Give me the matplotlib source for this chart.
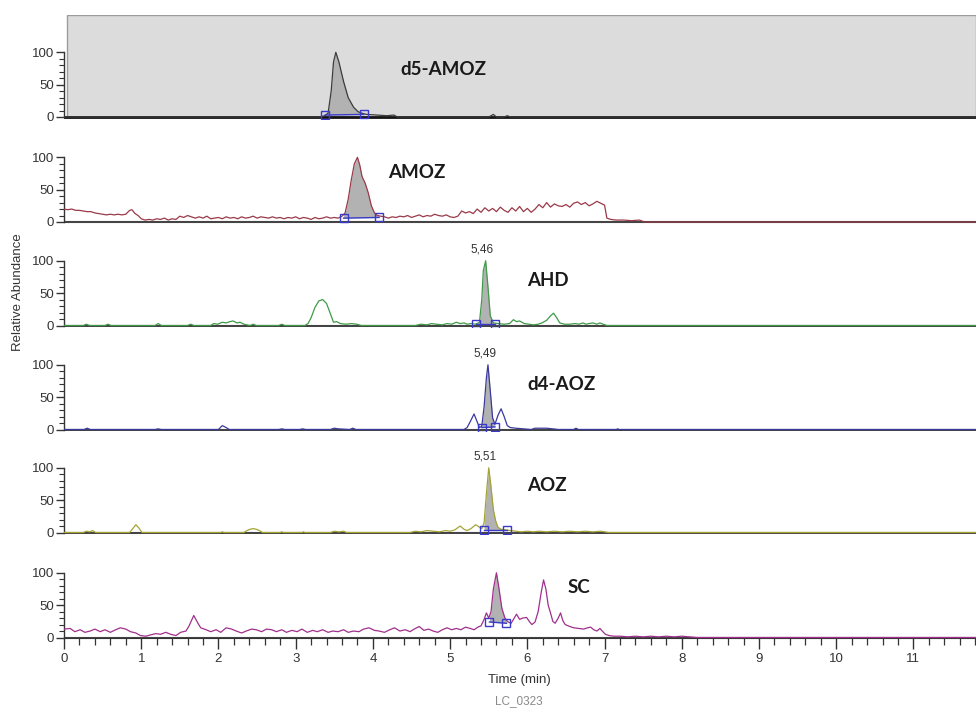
import numpy as np
import matplotlib
matplotlib.use('Agg')
import matplotlib.pyplot as plt
from matplotlib.patches import Rectangle
from matplotlib.ticker import FixedLocator
from matplotlib.transforms import blended_transform_factory

# chromatogram traces, (time min, relative abundance)
d5_amoz = [(0, 0), (3.30, 0), (3.38, 2), (3.42, 6), (3.46, 40), (3.49, 85), (3.52, 100),
           (3.56, 85), (3.62, 55), (3.68, 30), (3.75, 15), (3.81, 8), (3.88, 5), (3.92, 4),
           (4.05, 3), (4.18, 2), (4.27, 3), (4.32, 0), (5.50, 0), (5.56, 4), (5.60, 0),
           (5.70, 0), (5.74, 2), (5.78, 0), (11.81, 0)]

amoz = [(0.00, 20), (0.05, 19), (0.10, 20), (0.15, 18), (0.20, 18), (0.25, 17), (0.30, 16),
        (0.35, 16), (0.40, 14), (0.45, 13), (0.50, 12), (0.55, 11), (0.60, 12), (0.65, 11),
        (0.70, 12), (0.75, 11), (0.80, 12), (0.85, 18), (0.88, 19), (0.92, 13), (0.96, 10),
        (1.00, 5), (1.05, 3), (1.10, 4), (1.15, 3), (1.20, 5), (1.25, 4), (1.30, 6), (1.35, 3),
        (1.40, 5), (1.45, 4), (1.50, 9), (1.55, 7), (1.60, 10), (1.65, 8), (1.70, 6), (1.75, 8),
        (1.80, 6), (1.85, 9), (1.90, 5), (1.95, 6), (2.00, 7), (2.05, 5), (2.10, 8), (2.15, 6),
        (2.20, 7), (2.25, 5), (2.30, 8), (2.35, 6), (2.40, 7), (2.45, 9), (2.50, 6), (2.55, 8),
        (2.60, 7), (2.65, 6), (2.70, 8), (2.75, 6), (2.80, 7), (2.85, 5), (2.90, 7), (2.95, 6),
        (3.00, 8), (3.05, 5), (3.10, 7), (3.15, 6), (3.20, 4), (3.25, 7), (3.30, 5), (3.35, 6),
        (3.40, 8), (3.45, 6), (3.50, 7), (3.55, 6), (3.60, 9), (3.64, 14), (3.68, 35),
        (3.72, 65), (3.76, 90), (3.80, 100), (3.83, 88), (3.86, 70), (3.90, 60), (3.94, 45),
        (3.98, 25), (4.02, 14), (4.06, 10), (4.10, 9), (4.15, 8), (4.20, 6), (4.25, 8),
        (4.30, 7), (4.35, 9), (4.40, 8), (4.45, 10), (4.50, 7), (4.55, 9), (4.60, 11),
        (4.65, 8), (4.70, 10), (4.75, 9), (4.80, 12), (4.85, 10), (4.90, 9), (4.95, 11),
        (5.00, 8), (5.05, 7), (5.10, 9), (5.15, 17), (5.20, 14), (5.25, 16), (5.30, 13),
        (5.35, 20), (5.40, 15), (5.45, 22), (5.50, 17), (5.55, 21), (5.60, 16), (5.65, 23),
        (5.70, 18), (5.75, 15), (5.80, 22), (5.85, 17), (5.90, 24), (5.95, 16), (6.00, 21),
        (6.05, 15), (6.10, 20), (6.15, 27), (6.20, 22), (6.25, 30), (6.30, 23), (6.35, 28),
        (6.40, 25), (6.45, 24), (6.50, 27), (6.55, 23), (6.60, 29), (6.65, 31), (6.70, 27),
        (6.75, 30), (6.80, 25), (6.85, 28), (6.90, 32), (6.95, 29), (7.00, 26), (7.03, 6),
        (7.08, 4), (7.15, 3), (7.25, 3), (7.35, 2), (7.45, 3), (7.52, 0), (11.81, 0)]

ahd = [(0, 0), (0.25, 0), (0.29, 2), (0.33, 0), (0.53, 0), (0.57, 2), (0.61, 0), (1.18, 0),
       (1.22, 3), (1.26, 0), (1.60, 0), (1.64, 2), (1.68, 0), (1.90, 0), (1.94, 3), (1.99, 2),
       (2.05, 5), (2.10, 4), (2.15, 6), (2.19, 7), (2.24, 4), (2.28, 5), (2.33, 2), (2.41, 0),
       (2.45, 2), (2.49, 0), (2.78, 0), (2.82, 2), (2.86, 0), (3.12, 0), (3.16, 3), (3.20, 12),
       (3.25, 28), (3.30, 38), (3.35, 40), (3.40, 34), (3.45, 18), (3.49, 5), (3.53, 6),
       (3.58, 3), (3.65, 2), (3.72, 3), (3.79, 2), (3.85, 0), (4.55, 0), (4.62, 2), (4.70, 1),
       (4.76, 3), (4.82, 2), (4.90, 1), (4.96, 3), (5.02, 2), (5.08, 5), (5.13, 3), (5.18, 4),
       (5.22, 2), (5.27, 3), (5.33, 2), (5.38, 5), (5.41, 40), (5.43, 85), (5.46, 100),
       (5.49, 60), (5.52, 15), (5.56, 4), (5.62, 3), (5.70, 2), (5.77, 3), (5.82, 9),
       (5.86, 6), (5.90, 7), (5.96, 3), (6.02, 2), (6.08, 1), (6.14, 2), (6.19, 4), (6.25, 8),
       (6.30, 15), (6.34, 19), (6.38, 12), (6.42, 4), (6.48, 2), (6.55, 2), (6.62, 3),
       (6.67, 2), (6.72, 4), (6.76, 2), (6.80, 3), (6.85, 4), (6.90, 2), (6.94, 4), (6.98, 2),
       (7.03, 0), (11.81, 0)]

d4_aoz = [(0, 0), (0.26, 0), (0.30, 2), (0.34, 0), (1.18, 0), (1.22, 1), (1.26, 0), (2.00, 0),
          (2.05, 6), (2.10, 3), (2.14, 0), (2.78, 0), (2.82, 1), (2.86, 0), (3.05, 0),
          (3.09, 1), (3.13, 0), (3.45, 0), (3.50, 2), (3.55, 1), (3.70, 0), (3.74, 2),
          (3.78, 0), (5.18, 0), (5.22, 3), (5.26, 12), (5.31, 24), (5.35, 12), (5.38, 3),
          (5.41, 5), (5.44, 35), (5.47, 80), (5.49, 100), (5.52, 60), (5.55, 18), (5.58, 8),
          (5.62, 22), (5.66, 32), (5.70, 20), (5.74, 6), (5.78, 3), (5.85, 2), (5.95, 1),
          (6.05, 0), (6.10, 2), (6.25, 2), (6.33, 1), (6.40, 0), (6.60, 0), (6.63, 2),
          (6.66, 0), (7.15, 0), (7.17, 1), (7.19, 0), (11.81, 0)]

aoz = [(0, 0), (0.25, 0), (0.29, 2), (0.33, 1), (0.37, 3), (0.41, 0), (0.85, 0), (0.89, 6),
       (0.93, 12), (0.97, 7), (1.01, 0), (2.03, 0), (2.05, 1), (2.07, 0), (2.33, 0), (2.37, 3),
       (2.41, 5), (2.45, 6), (2.49, 5), (2.53, 3), (2.57, 0), (2.80, 0), (2.82, 1), (2.84, 0),
       (3.08, 0), (3.10, 1), (3.12, 0), (3.45, 0), (3.50, 2), (3.56, 1), (3.62, 2), (3.66, 0),
       (4.48, 0), (4.55, 2), (4.62, 1), (4.70, 3), (4.78, 2), (4.86, 1), (4.94, 3), (5.00, 2),
       (5.06, 4), (5.13, 10), (5.18, 5), (5.22, 3), (5.27, 6), (5.33, 12), (5.37, 9),
       (5.41, 6), (5.44, 15), (5.47, 60), (5.50, 100), (5.53, 70), (5.56, 35), (5.59, 18),
       (5.62, 8), (5.66, 5), (5.72, 4), (5.78, 3), (5.85, 2), (5.92, 1), (6.00, 2), (6.08, 1),
       (6.15, 2), (6.25, 1), (6.35, 2), (6.45, 1), (6.55, 2), (6.65, 1), (6.75, 2), (6.85, 1),
       (6.95, 2), (7.05, 0), (11.81, 0)]

sc = [(0.00, 13), (0.08, 14), (0.14, 9), (0.21, 12), (0.27, 8), (0.34, 10), (0.40, 13),
      (0.47, 9), (0.53, 12), (0.60, 8), (0.67, 12), (0.73, 15), (0.80, 13), (0.86, 9),
      (0.93, 7), (0.99, 3), (1.06, 2), (1.12, 4), (1.19, 6), (1.25, 5), (1.32, 8), (1.38, 5),
      (1.45, 3), (1.51, 8), (1.58, 10), (1.62, 18), (1.68, 34), (1.73, 23), (1.77, 15),
      (1.84, 12), (1.90, 9), (1.97, 12), (2.03, 8), (2.10, 15), (2.17, 13), (2.23, 10),
      (2.30, 7), (2.36, 10), (2.43, 13), (2.49, 12), (2.56, 9), (2.62, 13), (2.69, 12),
      (2.75, 9), (2.82, 12), (2.88, 8), (2.95, 11), (3.02, 9), (3.08, 13), (3.15, 8),
      (3.22, 11), (3.28, 9), (3.35, 12), (3.42, 8), (3.48, 10), (3.55, 9), (3.62, 12),
      (3.68, 8), (3.75, 10), (3.82, 9), (3.88, 13), (3.95, 15), (4.02, 11), (4.08, 10),
      (4.15, 8), (4.22, 12), (4.28, 15), (4.35, 10), (4.42, 12), (4.48, 9), (4.55, 14),
      (4.60, 17), (4.66, 11), (4.72, 13), (4.78, 10), (4.84, 8), (4.90, 12), (4.96, 15),
      (5.02, 12), (5.08, 14), (5.14, 12), (5.20, 16), (5.26, 14), (5.31, 12), (5.36, 16),
      (5.40, 18), (5.44, 28), (5.47, 38), (5.50, 30), (5.53, 40), (5.56, 75), (5.60, 100),
      (5.63, 78), (5.67, 45), (5.71, 30), (5.75, 24), (5.79, 22), (5.83, 30), (5.86, 36),
      (5.90, 28), (5.94, 30), (5.99, 31), (6.03, 24), (6.06, 20), (6.10, 24), (6.14, 40),
      (6.18, 70), (6.21, 89), (6.24, 75), (6.27, 50), (6.30, 38), (6.33, 25), (6.36, 22),
      (6.40, 30), (6.43, 38), (6.46, 26), (6.49, 20), (6.55, 17), (6.60, 15), (6.67, 14),
      (6.73, 13), (6.78, 15), (6.82, 16), (6.86, 12), (6.90, 10), (6.94, 14), (6.97, 10),
      (7.01, 5), (7.06, 3), (7.12, 2), (7.20, 2), (7.30, 1), (7.40, 2), (7.50, 1), (7.60, 2),
      (7.70, 1), (7.80, 2), (7.90, 1), (8.00, 2), (8.10, 1), (8.20, 0), (11.81, 0)]

# integration start/end markers (time, level)
d5_amoz_int = [(3.38, 3), (3.88, 4)]
amoz_int = [(3.62, 6), (4.08, 7)]
ahd_int = [(5.33, 2), (5.58, 2)]
d4_aoz_int = [(5.41, 3), (5.58, 4)]
aoz_int = [(5.44, 4), (5.74, 4)]
sc_int = [(5.51, 24), (5.73, 22)]

names = ['d5-AMOZ', 'AMOZ', 'AHD', 'd4-AOZ', 'AOZ', 'SC']
rt_labels = [None, None, '5,46', '5,49', '5,51', None]
rt_pos = [None, None, 5.41, 5.45, 5.45, None]
name_pos = [(4.35, 73), (4.20, 76), (6.0, 69), (6.0, 70), (6.0, 73), (6.52, 77)]
colors = ['#3c3c3c', '#9a3a48', '#3f9a48', '#3a3a9c', '#a4a436', '#a0308c']
traces = [d5_amoz, amoz, ahd, d4_aoz, aoz, sc]
ints = [d5_amoz_int, amoz_int, ahd_int, d4_aoz_int, aoz_int, sc_int]

W, H = 976, 715
plt.rcParams['font.family'] = ['Liberation Sans', 'DejaVu Sans']
fig = plt.figure(figsize=(W / 100, H / 100), dpi=100)

baseline_px = [117, 222, 325.5, 429.5, 532.5, 637.5]
ppu = 0.647          # pixels per abundance unit
ylo, yhi = -3, 157
left_px = 64
xmax = 11.81


def fill_peak(ax, t, v, marks):
    (t1, b1), (t2, b2) = marks
    seg_t = np.concatenate([[t1], t[(t > t1) & (t < t2)], [t2]])
    seg_v = np.interp(seg_t, t, v)
    seg_b = np.interp(seg_t, [t1, t2], [b1, b2])
    ax.fill_between(seg_t, seg_v, seg_b, where=seg_v >= seg_b, interpolate=True,
                    color='#b2b2b2', lw=0, zorder=2)


for i in range(6):
    y0 = baseline_px[i]
    bottom = y0 - ylo * ppu
    height = (yhi - ylo) * ppu
    ax = fig.add_axes([left_px / W, 1 - bottom / H, 1 - left_px / W, height / H])
    ax.set_xlim(0, xmax)
    ax.set_ylim(ylo, yhi)
    ax.patch.set_alpha(0)

    t = np.array([p[0] for p in traces[i]])
    v = np.array([p[1] for p in traces[i]])

    if i == 0:
        tr = blended_transform_factory(ax.transAxes, ax.transData)
        ax.add_patch(Rectangle((0.0035, 0), 0.9965, yhi, transform=tr, facecolor='#dcdcdc',
                               edgecolor='#9c9c9c', lw=1, zorder=0))

    fill_peak(ax, t, v, ints[i])
    ax.plot(t, v, color=colors[i], lw=0.9, zorder=3)
    (t1, b1), (t2, b2) = ints[i]
    ax.plot([t1, t2], [b1, b2], color='#3a3ac8', lw=1, marker='s', ms=5.5,
            mfc='none', mew=1, zorder=4)

    base_col = '#141414' if i == 0 else '#444444'
    ax.axhline(0, color=base_col, lw=2 if i == 0 else 1.5, zorder=2.5)

    for s in ['top', 'right']:
        ax.spines[s].set_visible(False)
    ax.spines['left'].set_bounds(0, 100)
    ax.spines['left'].set_color('#333333')
    ax.spines['left'].set_linewidth(1)
    ax.yaxis.set_major_locator(FixedLocator([0, 50, 100]))
    ax.yaxis.set_minor_locator(FixedLocator(range(0, 101, 10)))
    ax.tick_params(axis='y', which='major', direction='out', length=6, width=1,
                   color='#333333', labelsize=9.5, labelcolor='#333333', pad=1)
    ax.tick_params(axis='y', which='minor', direction='out', length=3.5, width=0.8,
                   color='#333333')

    if i < 5:
        ax.spines['bottom'].set_visible(False)
        ax.set_xticks([])
    else:
        ax.spines['bottom'].set_position(('data', 0))
        ax.spines['bottom'].set_color('#333333')
        ax.set_xticks(range(0, 12))
        ax.xaxis.set_minor_locator(FixedLocator(np.arange(0, 11.81, 0.2)))
        ax.tick_params(axis='x', which='major', direction='out', length=8, width=1,
                       color='#333333', labelsize=9.5, labelcolor='#333333', pad=3)
        ax.tick_params(axis='x', which='minor', direction='out', length=5, width=0.9,
                       color='#333333')

    nx, ny = name_pos[i]
    ax.text(nx, ny, names[i], fontsize=13.5, fontweight='bold', family=['Lato', 'DejaVu Sans'],
            color='#1a1a1a', ha='left', va='center', zorder=5)
    if rt_labels[i]:
        ax.text(rt_pos[i], 117, rt_labels[i], fontsize=8.5, color='#333333',
                ha='center', va='center', zorder=5)

fig.text(18 / W, 1 - 292 / H, 'Relative Abundance', rotation=90, fontsize=9.5,
         color='#333333', ha='center', va='center')
fig.text(519 / W, 1 - 680 / H, 'Time (min)', fontsize=9.5, color='#333333',
         ha='center', va='center')
fig.text(519 / W, 1 - 701 / H, 'LC_0323', fontsize=8.5, color='#8a8a8a',
         ha='center', va='center')

fig.savefig('out.png', dpi=100)
